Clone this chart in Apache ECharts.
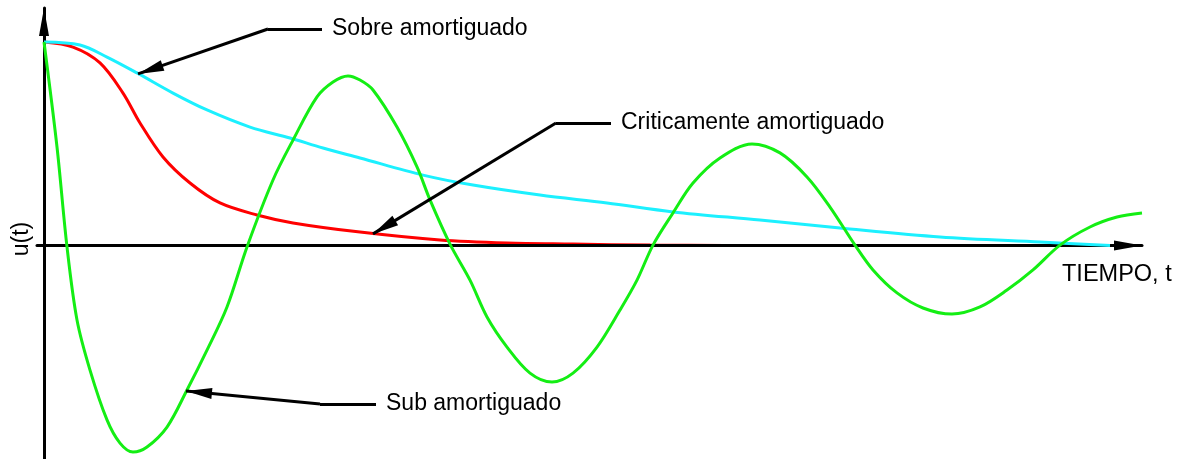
<!DOCTYPE html>
<html>
<head>
<meta charset="utf-8">
<script src="https://cdn.jsdelivr.net/npm/echarts@6/dist/echarts.min.js"></script>
<style>
  html, body { margin: 0; padding: 0; background: #fff; }
  #chart { width: 1184px; height: 459px; }
</style>
</head>
<body>
<div id="chart"></div>
<script>
// Sub amortiguado (green)
const greenT = [0, 0.13, 0.23, 0.33, 0.46, 0.63, 0.76, 0.89, 1.03, 1.23, 1.43, 1.63, 1.83, 2.03, 2.29, 2.49, 2.73, 2.89, 3.04, 3.16, 3.29, 3.53, 3.73, 3.86, 4.06, 4.26, 4.43, 4.63, 4.86, 5.08, 5.29, 5.53, 5.76, 5.93, 6.09, 6.29, 6.49, 6.76, 7.08, 7.36, 7.63, 7.86, 8.11, 8.29, 8.53, 8.79, 9.08, 9.36, 9.63, 9.89, 10.16, 10.46, 10.73, 10.98]
const greenU = [1, 0.484, -0.007, -0.366, -0.612, -0.857, -0.971, -1.015, -0.99, -0.892, -0.71, -0.514, -0.302, -0.007, 0.322, 0.518, 0.73, 0.803, 0.833, 0.813, 0.764, 0.582, 0.386, 0.224, 0.007, -0.17, -0.351, -0.499, -0.627, -0.671, -0.627, -0.499, -0.317, -0.17, 0.002, 0.16, 0.307, 0.43, 0.499, 0.455, 0.337, 0.189, 0.002, -0.12, -0.233, -0.307, -0.337, -0.302, -0.219, -0.12, 0.002, 0.091, 0.14, 0.16]

// Sobre amortiguado (cyan)
const cyanT = [0, 0.36, 0.63, 0.93, 1.29, 1.63, 2.06, 2.46, 2.79, 3.16, 3.79, 4.29, 4.96, 5.63, 6.29, 7.16, 7.96, 8.96, 9.96, 10.66]
const cyanU = [1, 0.985, 0.926, 0.848, 0.749, 0.666, 0.582, 0.528, 0.479, 0.43, 0.346, 0.297, 0.248, 0.209, 0.165, 0.125, 0.086, 0.042, 0.017, 0]

// Criticamente amortiguado (red)
const redT = [0, 0.29, 0.56, 0.79, 0.96, 1.19, 1.46, 1.76, 2.13, 2.49, 3.16, 3.96, 4.63, 5.29, 6.06, 7.56, 10.3]
const redU = [1, 0.975, 0.897, 0.749, 0.602, 0.435, 0.307, 0.209, 0.15, 0.111, 0.066, 0.027, 0.012, 0.007, 0.002, 0, 0]

// annotations: [label, text-side end, elbow, arrow tip]
const notes = [
  ['Sobre amortiguado', [2.78, 1.064], [2.24, 1.064], [0.94, 0.843]],
  ['Criticamente amortiguado', [5.67, 0.602], [5.12, 0.602], [3.29, 0.057]],
  ['Sub amortiguado', [3.32, -0.779], [2.76, -0.779], [1.42, -0.715]]
]

const pairs = (t, u) => t.map((v, i) => [v, u[i]])
const font = "'Liberation Sans', Arial, sans-serif"

const noteLines = []
notes.forEach(n => {
  noteLines.push([
    {coord: n[2], symbol: 'none', label: {show: true, position: 'end', formatter: n[0]}},
    {coord: n[1], symbol: 'none'}
  ])
  noteLines.push([
    {coord: n[2], symbol: 'none', label: {show: false}},
    {coord: n[3], symbol: 'triangle', symbolSize: [11, 26], symbolOffset: [0, 13]}
  ])
})

const axisLine = {
  onZero: true,
  symbol: ['none', 'triangle'],
  symbolSize: [10, 28],
  symbolOffset: [0, -14],
  lineStyle: {color: '#000', width: 3}
}

const chart = echarts.init(document.getElementById('chart'))
chart.setOption({
  animation: false,
  grid: {left: 37, right: 42, top: 8, bottom: 0},
  xAxis: {
    type: 'value', min: -0.07, max: 10.98, z: 2,
    axisLine: axisLine, axisTick: {show: false}, axisLabel: {show: false}, splitLine: {show: false}
  },
  yAxis: {
    type: 'value', min: -1.049, max: 1.167, z: 2,
    axisLine: axisLine, axisTick: {show: false}, axisLabel: {show: false}, splitLine: {show: false}
  },
  graphic: [
    {type: 'text', x: 22, y: 239, rotation: Math.PI / 2,
     style: {text: 'u(t)', font: '23px ' + font, fill: '#000', align: 'center', verticalAlign: 'middle'}},
    {type: 'text', x: 1062, y: 275,
     style: {text: 'TIEMPO, t', font: '23.5px ' + font, fill: '#000', align: 'left', verticalAlign: 'middle'}}
  ],
  series: [
    {type: 'line', name: 'Criticamente', data: pairs(redT, redU), z: 1, smooth: 0.33, showSymbol: false,
     lineStyle: {color: '#ff0000', width: 3}},
    {type: 'line', name: 'Sobre', data: pairs(cyanT, cyanU), z: 3, smooth: 0.33, showSymbol: false,
     lineStyle: {color: '#1cf0ff', width: 3}},
    {type: 'line', name: 'Sub', data: pairs(greenT, greenU), z: 4, smooth: 0.33, showSymbol: false, clip: false,
     lineStyle: {color: '#14ee14', width: 3}},
    {type: 'line', name: 'notes', data: [], z: 5,
     markLine: {
       silent: true, animation: false, symbol: 'none',
       lineStyle: {color: '#000', width: 3, type: 'solid'},
       label: {distance: 10, color: '#000', fontSize: 23, fontFamily: font},
       emphasis: {disabled: true},
       data: noteLines
     }}
  ]
})
</script>
</body>
</html>
